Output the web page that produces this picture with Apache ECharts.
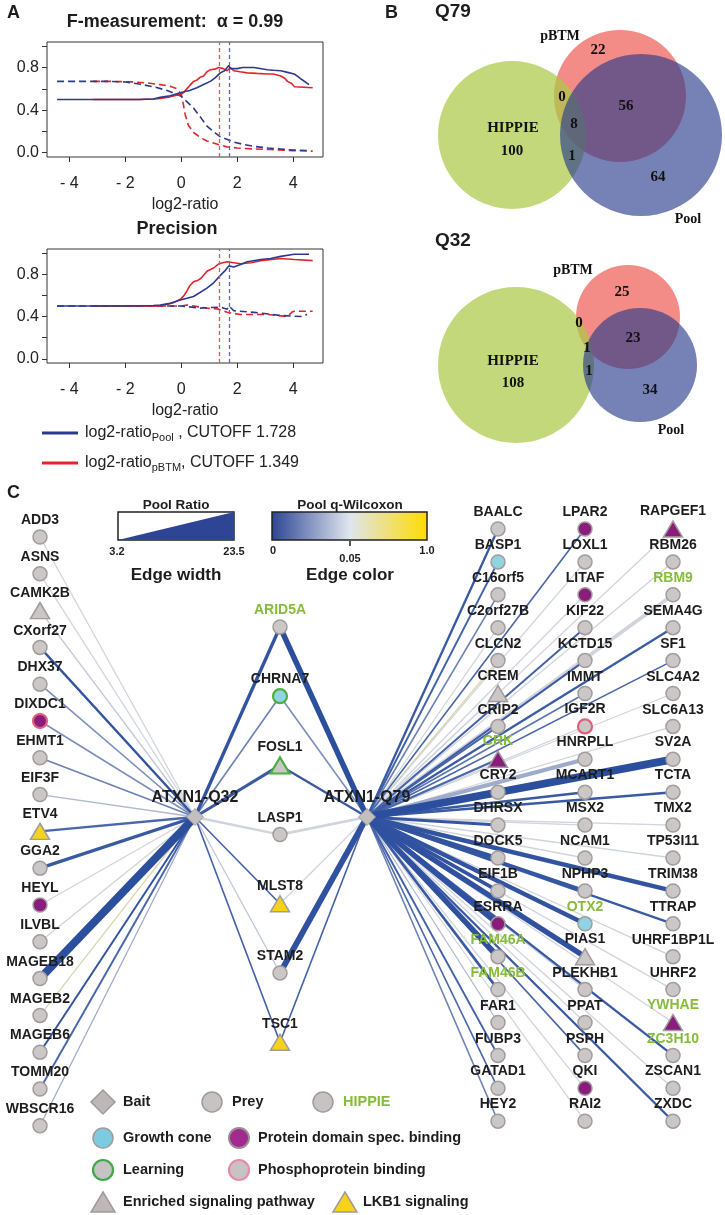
<!DOCTYPE html>
<html>
<head>
<meta charset="utf-8">
<script src="https://cdn.jsdelivr.net/npm/echarts@6/dist/echarts.min.js"></script>
<style>
html, body { margin: 0; padding: 0; background: #fff; }
#main { width: 725px; height: 1215px; }
</style>
</head>
<body>
<div id="main"></div>
<script>
// ---- panel A : F-measurement ----
var fmPoolX = [-4.44,-3,-2,-1.5,-1,-0.75,-0.4,0,0.3,0.56,0.8,1.04,1.2,1.4,1.55,1.7,1.76,1.82,2.0,2.2,2.6,3.08,3.3,3.56,3.8,4.04,4.2,4.3,4.57];
var fmPoolY = [0.50,0.50,0.50,0.50,0.505,0.52,0.535,0.565,0.585,0.61,0.64,0.67,0.70,0.75,0.77,0.82,0.79,0.78,0.79,0.80,0.80,0.78,0.775,0.77,0.755,0.74,0.71,0.69,0.64];
var fmBtmX = [-3.15,-2,-1.5,-1,-0.75,-0.4,0,0.1,0.2,0.3,0.44,0.55,0.68,0.8,0.92,1.04,1.2,1.34,1.5,1.64,1.76,1.88,2.1,2.36,2.7,3.08,3.3,3.56,3.7,3.8,3.95,4.05,4.7];
var fmBtmY = [0.50,0.50,0.50,0.505,0.51,0.525,0.55,0.57,0.60,0.63,0.67,0.68,0.71,0.72,0.76,0.78,0.785,0.80,0.79,0.77,0.80,0.77,0.76,0.75,0.745,0.74,0.74,0.72,0.70,0.67,0.65,0.62,0.61];
var fmPoolDashX = [-4.44,-2.5,-2,-1.5,-1,-0.5,0,0.2,0.44,0.7,0.92,1.2,1.4,1.7,1.88,2.2,2.6,3.1,3.56,4,4.6];
var fmPoolDashY = [0.67,0.67,0.665,0.645,0.62,0.585,0.53,0.48,0.42,0.33,0.25,0.19,0.15,0.12,0.10,0.08,0.06,0.045,0.035,0.025,0.02];
var fmBtmDashX = [-3.15,-2.5,-1.7,-1.2,-0.75,-0.4,-0.15,0,0.08,0.14,0.25,0.44,0.7,0.92,1.3,1.64,2.0,2.6,3.2,4.0,4.7];
var fmBtmDashY = [0.67,0.67,0.665,0.655,0.64,0.625,0.60,0.55,0.45,0.36,0.26,0.19,0.14,0.11,0.08,0.055,0.045,0.035,0.03,0.02,0.015];

// ---- panel A : Precision ----
var prPoolX = [-4.44,-3,-2,-1,-0.75,-0.4,0,0.44,0.92,1.16,1.4,1.55,1.7,1.88,2.1,2.36,2.84,3.2,3.56,4.04,4.57];
var prPoolY = [0.50,0.50,0.50,0.505,0.51,0.525,0.56,0.59,0.67,0.72,0.79,0.83,0.88,0.87,0.89,0.92,0.94,0.95,0.97,0.99,0.99];
var prBtmX = [-3.15,-2,-1,-0.75,-0.28,0,0.1,0.2,0.3,0.44,0.6,0.7,0.92,1.16,1.34,1.64,2.12,2.5,2.84,3.56,4.04,4.7];
var prBtmY = [0.50,0.50,0.50,0.50,0.53,0.57,0.60,0.64,0.69,0.73,0.745,0.76,0.83,0.86,0.90,0.92,0.90,0.91,0.93,0.95,0.94,0.93];
var prPoolDashX = [-4.44,-2,-1,0,0.68,1.4,1.64,1.71,1.88,2.6,3.56,4.28,4.5];
var prPoolDashY = [0.50,0.50,0.50,0.50,0.48,0.49,0.47,0.50,0.455,0.44,0.41,0.40,0.42];
var prBtmDashX = [-3.15,-2,-1,0,0.2,0.92,1.34,1.64,2.12,2.6,3.08,3.8,3.95,4.04,4.7];
var prBtmDashY = [0.50,0.50,0.50,0.50,0.51,0.48,0.47,0.44,0.42,0.42,0.42,0.40,0.44,0.45,0.45];

var cutoffPool = 1.728, cutoffBtm = 1.349;
var xTicks = [-4, -2, 0, 2, 4];
var yTicks = [0, 0.2, 0.4, 0.6, 0.8, 1.0];
var yLabels = [0, 0.4, 0.8];

// ---- panel B : venn counts ----
var vennRegions = ['HIPPIE', 'pBTM', 'Pool', 'HIPPIE+pBTM', 'pBTM+Pool', 'HIPPIE+Pool', 'all'];
var q79Counts = [100, 22, 64, 0, 56, 1, 8];
var q32Counts = [108, 25, 34, 0, 23, 1, 1];

// ---- panel C : network ----
var leftGenes = ['ADD3','ASNS','CAMK2B','CXorf27','DHX37','DIXDC1','EHMT1','EIF3F','ETV4','GGA2','HEYL','ILVBL','MAGEB18','MAGEB2','MAGEB6','TOMM20','WBSCR16'];
var leftRatio = [4,4,4,7,5,5,5,4,7,10,4,4,23.5,4,6,6,4];
var leftQ = [0.06,0.06,0.045,0.003,0.025,0.025,0.02,0.04,0.01,0.005,0.07,0.08,0.001,0.25,0.003,0.01,0.035];

var midGenes = ['ARID5A','CHRNA7','FOSL1','LASP1','MLST8','STAM2','TSC1'];
var midRatio32 = [10,5,9,7,5,4,5];
var midQ32 = [0.003,0.02,0.005,0.06,0.008,0.045,0.008];
var midRatio79 = [16,5,7,8,4,17,5];
var midQ79 = [0.001,0.025,0.005,0.055,0.05,0.002,0.008];

var col1Genes = ['BAALC','BASP1','C16orf5','C2orf27B','CLCN2','CREM','CRIP2','CRK','CRY2','DHRSX','DOCK5','EIF1B','ESRRA','FAM46A','FAM46B','FAR1','FUBP3','GATAD1','HEY2'];
var col1Ratio = [7,6,5,4,4,4,6,7,17,9,11,11,16,16,8,4,6,5,5];
var col1Q = [0.005,0.008,0.02,0.05,0.3,0.05,0.01,0.01,0.002,0.004,0.003,0.003,0.002,0.002,0.005,0.04,0.008,0.01,0.02];
var col2Genes = ['LPAR2','LOXL1','LITAF','KIF22','KCTD15','IMMT','IGF2R','HNRPLL','MCART1','MSX2','NCAM1','NPHP3','OTX2','PIAS1','PLEKHB1','PPAT','PSPH','QKI','RAI2'];
var col2Ratio = [5,4,4,6,6,5,4,12,8,4,4,10,13,16,4,4,5,4,4];
var col2Q = [0.01,0.05,0.05,0.008,0.006,0.015,0.05,0.035,0.005,0.055,0.055,0.004,0.003,0.002,0.05,0.05,0.01,0.05,0.05];
var col3Genes = ['RAPGEF1','RBM26','RBM9','SEMA4G','SF1','SLC4A2','SLC6A13','SV2A','TCTA','TMX2','TP53I11','TRIM38','TTRAP','UHRF1BP1L','UHRF2','YWHAE','ZC3H10','ZSCAN1','ZXDC'];
var col3Ratio = [4,4,11,7,5,4,4,23,8,4,4,13,7,4,4,4,7,4,7];
var col3Q = [0.05,0.05,0.06,0.006,0.01,0.05,0.05,0.001,0.005,0.055,0.055,0.003,0.005,0.05,0.05,0.05,0.005,0.05,0.005];

var hippieGenes = ['ARID5A','CRK','RBM9','OTX2','FAM46A','FAM46B','YWHAE','ZC3H10'];
var growthConeGenes = ['BASP1','CHRNA7','OTX2'];
var learningGenes = ['CHRNA7','FOSL1'];
var domainGenes = ['DIXDC1','HEYL','LPAR2','LITAF','ESRRA','QKI','CRK','RAPGEF1','YWHAE'];
var phosphoGenes = ['DIXDC1','IGF2R'];
var pathwayGenes = ['CAMK2B','CREM','PIAS1','FOSL1','CRK','RAPGEF1','YWHAE','ETV4','MLST8','TSC1'];
var lkb1Genes = ['ETV4','MLST8','TSC1'];

var ratioRange = [3.2, 23.5];
var qStops = [[0, [40, 76, 156]], [0.05, [208, 212, 222]], [1, [255, 222, 0]]];

var SANS = 'Liberation Sans', SERIF = 'Liberation Serif';
var BLUE = '#2d3a8c', RED = '#e3242b', GREEN = '#86bc3b';

function pairs(xs, ys) {
    return xs.map(function (x, i) { return [x, ys[i]]; });
}
function has(list, name) { return list.indexOf(name) >= 0; }

function qColor(q) {
    var a = q <= 0.05 ? qStops[0] : qStops[1];
    var b = q <= 0.05 ? qStops[1] : qStops[2];
    var t = (q - a[0]) / (b[0] - a[0]);
    var c = a[1].map(function (v, i) { return Math.round(v + (b[1][i] - v) * t); });
    return 'rgb(' + c.join(',') + ')';
}
function ratioWidth(r) {
    return 1 + (r - ratioRange[0]) / (ratioRange[1] - ratioRange[0]) * 7;
}

// ---- axes for panel A (R style) ----
function xAxisA(gi) {
    return {
        type: 'value', gridIndex: gi, min: -4.8, max: 5.07,
        axisLine: { show: false, onZero: false }, splitLine: { show: false },
        axisTick: { show: true, length: 5, customValues: xTicks, lineStyle: { color: '#333' } },
        axisLabel: {
            customValues: xTicks, margin: 19, fontSize: 16, fontFamily: SANS, color: '#222',
            formatter: function (v) { return v < 0 ? '- ' + Math.abs(v) : String(v); }
        },
        name: 'log2-ratio', nameLocation: 'middle', nameGap: 40,
        nameTextStyle: { fontSize: 16, fontFamily: SANS, color: '#222' }
    };
}
function yAxisA(gi) {
    return {
        type: 'value', gridIndex: gi, min: -0.04, max: 1.04,
        axisLine: { show: false, onZero: false }, splitLine: { show: false },
        axisTick: { show: true, length: 5, customValues: yTicks, lineStyle: { color: '#333' } },
        axisLabel: {
            customValues: yLabels, margin: 8, fontSize: 16, fontFamily: SANS, color: '#222',
            formatter: function (v) { return v.toFixed(1); }
        }
    };
}
function lineA(gi, data, color, dashed, cut) {
    var s = {
        type: 'line', xAxisIndex: gi, yAxisIndex: gi, data: data,
        showSymbol: false, silent: true, z: 3,
        lineStyle: { color: color, width: 1.6, type: dashed ? [7, 4] : 'solid' }
    };
    if (cut) {
        s.markLine = {
            silent: true, symbol: 'none', label: { show: false },
            lineStyle: { width: 1.3, opacity: 1, type: [4, 3] },
            data: [
                { xAxis: cutoffBtm, lineStyle: { color: '#f0505a', type: [4, 3], width: 1.3 } },
                { xAxis: cutoffPool, lineStyle: { color: '#5a6ab8', type: [4, 3], width: 1.3 } }
            ]
        };
    }
    return s;
}

// ---- venn layout (pixel units on the hidden full-page grid) ----
var vennColors = ['rgba(238,86,76,0.68)', 'rgba(172,200,72,0.72)', 'rgba(40,58,140,0.64)'];
// order drawn: pBTM, HIPPIE, Pool
var vennCircles = [
    [620, 96, 66, 0], [512, 135, 74, 1], [641, 135, 81, 2],
    [628, 317, 52, 0], [516, 365, 78, 1], [640, 365, 57, 2]
];
var q79Pos = [[512, 151], [598, 50], [658, 177], [562, 97], [626, 106], [572, 156], [574, 124]];
var q32Pos = [[513, 383], [622, 292], [650, 390], [579, 323], [633, 338], [589, 371], [587, 348]];
var vennNames = [['pBTM', 560, 36], ['Pool', 688, 219], ['HIPPIE', 513, 128],
                 ['pBTM', 573, 270], ['Pool', 671, 430], ['HIPPIE', 513, 361]];

var vennText = [];
q79Counts.forEach(function (c, i) { vennText.push([q79Pos[i][0], q79Pos[i][1], String(c), 15]); });
q32Counts.forEach(function (c, i) { vennText.push([q32Pos[i][0], q32Pos[i][1], String(c), 15]); });
vennNames.forEach(function (n) { vennText.push([n[1], n[2], n[0], n[0] === 'HIPPIE' ? 15 : 14]); });

// ---- network nodes ----
var colX = { left: 40, mid: 280, r1: 498, r2: 585, r3: 673 };
var nodes = [], links = [];
function nodeFor(name, x, y) {
    var tri = has(pathwayGenes, name);
    var fill = '#cbc7c7', border = '#a29c9c', bw = 1.5;
    if (has(growthConeGenes, name)) fill = '#8fd4e3';
    if (has(domainGenes, name)) fill = '#8a1c7c';
    if (has(lkb1Genes, name)) fill = '#f6d21c';
    if (has(phosphoGenes, name)) { border = '#e0607a'; bw = 2.2; }
    if (has(learningGenes, name)) { border = '#4caf3c'; bw = 2.2; }
    return {
        name: name, x: x, y: y,
        symbol: tri ? 'triangle' : 'circle',
        symbolSize: tri ? [19, 16] : 14,
        itemStyle: { color: fill, borderColor: border, borderWidth: bw },
        label: { color: has(hippieGenes, name) ? GREEN : '#1d1d1d' }
    };
}
function addLink(src, tgt, r, q) {
    links.push({ source: src, target: tgt, q: q,
        lineStyle: { width: ratioWidth(r), color: qColor(q), opacity: 1, curveness: 0 } });
}
nodes.push({ name: 'ATXN1-Q32', x: 195, y: 817, symbol: 'diamond', symbolSize: 17,
    itemStyle: { color: '#c4bfbf', borderColor: '#a39d9d', borderWidth: 1 },
    label: { fontSize: 16, color: '#1d1d1d' } });
nodes.push({ name: 'ATXN1-Q79', x: 367, y: 817, symbol: 'diamond', symbolSize: 17,
    itemStyle: { color: '#c4bfbf', borderColor: '#a39d9d', borderWidth: 1 },
    label: { fontSize: 16, color: '#1d1d1d' } });

leftGenes.forEach(function (g, i) {
    nodes.push(nodeFor(g, colX.left, 537 + i * 36.8));
    addLink('ATXN1-Q32', g, leftRatio[i], leftQ[i]);
});
midGenes.forEach(function (g, i) {
    nodes.push(nodeFor(g, colX.mid, 627 + i * 69.2));
    addLink('ATXN1-Q32', g, midRatio32[i], midQ32[i]);
    addLink('ATXN1-Q79', g, midRatio79[i], midQ79[i]);
});
[[col1Genes, col1Ratio, col1Q, colX.r1], [col2Genes, col2Ratio, col2Q, colX.r2], [col3Genes, col3Ratio, col3Q, colX.r3]].forEach(function (c) {
    c[0].forEach(function (g, i) {
        nodes.push(nodeFor(g, c[3], 529 + i * 32.9));
        addLink('ATXN1-Q79', g, c[1][i], c[2][i]);
    });
});
links.sort(function (a, b) { return b.q - a.q; });

var bx = nodes.map(function (n) { return n.x; }), by = nodes.map(function (n) { return n.y; });
var minX = Math.min.apply(null, bx), maxX = Math.max.apply(null, bx);
var minY = Math.min.apply(null, by), maxY = Math.max.apply(null, by);

// ---- graphic: labels, colour bars, legends ----
function txt(x, y, s, size, opt) {
    opt = opt || {};
    return {
        type: 'text', x: x, y: y, silent: true, z: 20,
        style: {
            text: s, fontSize: size, fontFamily: opt.family || SANS, fontWeight: opt.weight || 'bold',
            fill: opt.fill || '#1d1d1d', align: opt.align || 'left', verticalAlign: 'middle', rich: opt.rich
        }
    };
}
function sym(kind, x, y, fill, stroke, lw) {
    var base = { silent: true, z: 20, style: { fill: fill, stroke: stroke, lineWidth: lw || 1.5 } };
    if (kind === 'circle') { base.type = 'circle'; base.shape = { cx: x, cy: y, r: 10 }; }
    else if (kind === 'triangle') { base.type = 'polygon'; base.shape = { points: [[x, y - 10], [x + 12, y + 10], [x - 12, y + 10]] }; }
    else { base.type = 'polygon'; base.shape = { points: [[x, y - 12], [x + 12, y], [x, y + 12], [x - 12, y]] }; }
    return base;
}
var subRich = { s: { fontSize: 11, fontFamily: SANS, padding: [9, 0, 0, 0] } };

var graphics = [
    txt(7, 13, 'A', 18),
    txt(175, 22, 'F-measurement:  \u03b1 = 0.99', 18, { align: 'center' }),
    txt(177, 229, 'Precision', 18, { align: 'center' }),
    { type: 'line', silent: true, shape: { x1: 42, y1: 433, x2: 78, y2: 433 }, style: { stroke: BLUE, lineWidth: 3 } },
    txt(85, 433, 'log2-ratio{s|Pool} , CUTOFF 1.728', 16, { weight: 'normal', fill: '#222', rich: subRich }),
    { type: 'line', silent: true, shape: { x1: 42, y1: 463, x2: 78, y2: 463 }, style: { stroke: RED, lineWidth: 3 } },
    txt(85, 463, 'log2-ratio{s|pBTM}, CUTOFF 1.349', 16, { weight: 'normal', fill: '#222', rich: subRich }),

    txt(385, 13, 'B', 18),
    txt(435, 12, 'Q79', 19),
    txt(435, 241, 'Q32', 19),

    txt(7, 493, 'C', 18),
    txt(176, 505, 'Pool Ratio', 13.5, { align: 'center' }),
    { type: 'rect', silent: true, shape: { x: 118, y: 512, width: 116, height: 28 }, style: { fill: '#fff', stroke: '#222', lineWidth: 1.5 } },
    { type: 'polygon', silent: true, shape: { points: [[118, 540], [234, 512], [234, 540]] }, style: { fill: '#2e4596' } },
    txt(117, 552, '3.2', 11, { align: 'center' }),
    txt(234, 552, '23.5', 11, { align: 'center' }),
    txt(176, 575, 'Edge width', 17, { align: 'center' }),
    txt(350, 505, 'Pool q-Wilcoxon', 13.5, { align: 'center' }),
    { type: 'rect', silent: true, shape: { x: 272, y: 512, width: 155, height: 28 },
      style: { stroke: '#222', lineWidth: 1.5,
        fill: new echarts.graphic.LinearGradient(0, 0, 1, 0, [
            { offset: 0, color: '#2c4494' }, { offset: 0.5, color: '#dfe5ee' }, { offset: 1, color: '#ffdc00' }]) } },
    { type: 'line', silent: true, shape: { x1: 350, y1: 541, x2: 350, y2: 546 }, style: { stroke: '#222', lineWidth: 1.5 } },
    txt(273, 551, '0', 11, { align: 'center' }),
    txt(350, 559, '0.05', 11, { align: 'center' }),
    txt(427, 551, '1.0', 11, { align: 'center' }),
    txt(350, 575, 'Edge color', 17, { align: 'center' }),

    sym('diamond', 103, 1102, '#bdb7b7', '#a09a9a'),
    txt(123, 1102, 'Bait', 14.5),
    sym('circle', 212, 1102, '#c8c3c3', '#a19b9b'),
    txt(232, 1102, 'Prey', 14.5),
    sym('circle', 323, 1102, '#c8c3c3', '#a19b9b'),
    txt(343, 1102, 'HIPPIE', 14.5, { fill: GREEN }),
    sym('circle', 103, 1138, '#7ccbe0', '#a19b9b'),
    txt(123, 1138, 'Growth cone', 14.5),
    sym('circle', 239, 1138, '#a22a8e', '#9b8b96', 2),
    txt(258, 1138, 'Protein domain spec. binding', 14.5),
    sym('circle', 103, 1170, '#c8c3c3', '#3fa84a', 2.2),
    txt(123, 1170, 'Learning', 14.5),
    sym('circle', 239, 1170, '#c8c3c3', '#e88aa8', 2.2),
    txt(258, 1170, 'Phosphoprotein binding', 14.5),
    sym('triangle', 103, 1202, '#bdb7b7', '#a09a9a'),
    txt(123, 1202, 'Enriched signaling pathway', 14.5),
    sym('triangle', 345, 1202, '#f6d21c', '#a09a9a'),
    txt(363, 1202, 'LKB1 signaling', 14.5)
];

var chart = echarts.init(document.getElementById('main'));
chart.setOption({
    animation: false,
    backgroundColor: '#fff',
    grid: [
        { left: 47, top: 42, width: 276, height: 115, show: true, borderColor: '#333', borderWidth: 1 },
        { left: 47, top: 249, width: 276, height: 114, show: true, borderColor: '#333', borderWidth: 1 },
        { left: 0, top: 0, width: 725, height: 1215, show: false }
    ],
    xAxis: [xAxisA(0), xAxisA(1), { type: 'value', gridIndex: 2, min: 0, max: 725, show: false }],
    yAxis: [yAxisA(0), yAxisA(1), { type: 'value', gridIndex: 2, min: 0, max: 1215, inverse: true, show: false }],
    graphic: graphics,
    series: [
        lineA(0, pairs(fmBtmDashX, fmBtmDashY), RED, true, true),
        lineA(0, pairs(fmPoolDashX, fmPoolDashY), BLUE, true),
        lineA(0, pairs(fmBtmX, fmBtmY), RED, false),
        lineA(0, pairs(fmPoolX, fmPoolY), BLUE, false),
        lineA(1, pairs(prBtmDashX, prBtmDashY), RED, true, true),
        lineA(1, pairs(prPoolDashX, prPoolDashY), BLUE, true),
        lineA(1, pairs(prBtmX, prBtmY), RED, false),
        lineA(1, pairs(prPoolX, prPoolY), BLUE, false),
        {
            type: 'custom', xAxisIndex: 2, yAxisIndex: 2, silent: true, z: 1,
            data: vennCircles,
            renderItem: function (params, api) {
                var p = api.coord([api.value(0), api.value(1)]);
                var r = api.size([api.value(2), 0])[0];
                return { type: 'circle', shape: { cx: p[0], cy: p[1], r: r },
                    style: { fill: vennColors[api.value(3)], stroke: null } };
            }
        },
        {
            type: 'custom', xAxisIndex: 2, yAxisIndex: 2, silent: true, z: 2,
            data: vennText.map(function (t) { return [t[0], t[1]]; }),
            renderItem: function (params, api) {
                var p = api.coord([api.value(0), api.value(1)]);
                var t = vennText[params.dataIndex];
                return { type: 'text', x: p[0], y: p[1],
                    style: { text: t[2], fontSize: t[3], fontFamily: SERIF, fontWeight: 'bold',
                        fill: '#111', align: 'center', verticalAlign: 'middle' } };
            }
        },
        {
            type: 'graph', layout: 'none', roam: false, silent: true, z: 5,
            left: minX, top: minY, width: maxX - minX, height: maxY - minY,
            data: nodes, links: links,
            label: { show: true, position: 'top', distance: 2, fontSize: 14, fontWeight: 'bold', fontFamily: SANS },
            lineStyle: { opacity: 1 },
            emphasis: { disabled: true }
        }
    ]
});
</script>
</body>
</html>
